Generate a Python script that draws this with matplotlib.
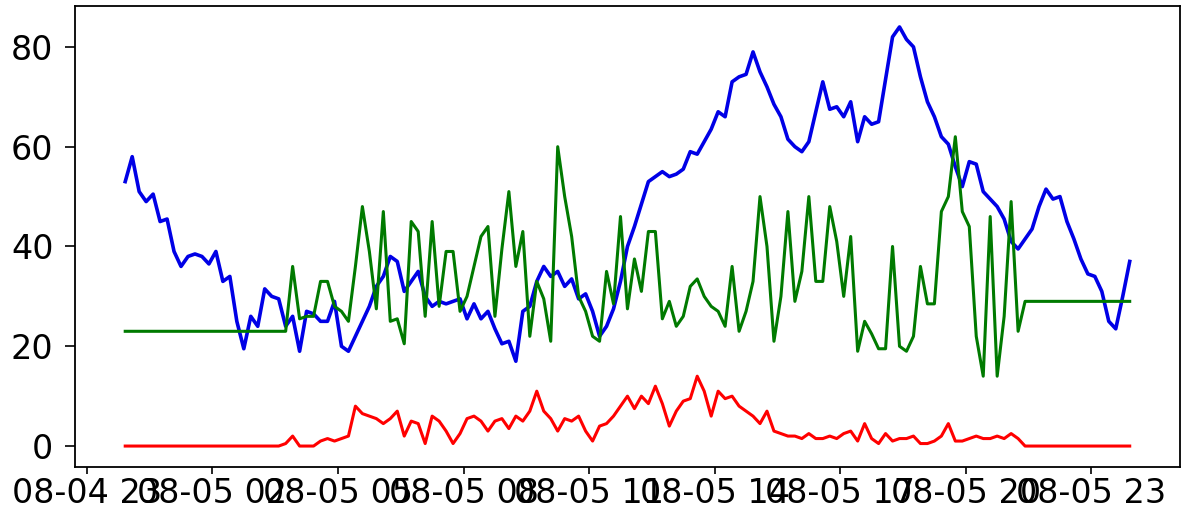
import numpy as np
import pandas as pd
import matplotlib
matplotlib.use('Agg')
import matplotlib.pyplot as plt
import matplotlib.dates as mdates

# 10-minute samples over one day
times = pd.date_range('2024-08-04 23:55', periods=145, freq='10min')

blue_vals = [
    53, 58, 51, 49, 50.5, 45, 45.5, 39, 36, 38,
    38.5, 38, 36.5, 39, 33, 34, 25, 19.5, 26, 24,
    31.5, 30, 29.5, 24, 26, 19, 27, 26.5, 25, 25,
    29, 20, 19, 22, 25, 28, 32, 34, 38, 37,
    31, 33, 35, 30, 28, 29, 28.5, 29, 29.5, 25.5,
    28.5, 25.5, 27, 23.5, 20.5, 21, 17, 27, 28, 33,
    36, 34, 35, 32, 33.5, 29.5, 30.5, 27, 22, 24,
    27.5, 33, 40, 44, 48.5, 53, 54, 55, 54, 54.5,
    55.5, 59, 58.5, 61, 63.5, 67, 66, 73, 74, 74.5,
    79, 75, 72, 68.5, 66, 61.5, 60, 59, 61, 67,
    73, 67.5, 68, 66, 69, 61, 66, 64.5, 65, 73.5,
    82, 84, 81.5, 80, 74, 69, 66, 62, 60.5, 56,
    52, 57, 56.5, 51, 49.5, 48, 45.5, 41, 39.5, 41.5,
    43.5, 48, 51.5, 49.5, 50, 45, 41.5, 37.5, 34.5, 34,
    31, 25, 23.5, 30, 37,
]

green_vals = [
    23, 23, 23, 23, 23, 23, 23, 23, 23, 23,
    23, 23, 23, 23, 23, 23, 23, 23, 23, 23,
    23, 23, 23, 23, 36, 25.5, 26, 26, 33, 33,
    28, 27, 25, 36, 48, 39, 27.5, 47, 25, 25.5,
    20.5, 45, 43, 26, 45, 28, 39, 39, 27, 30,
    36, 42, 44, 26, 39.5, 51, 36, 43, 22, 33,
    29.5, 21, 60, 50, 42, 30, 27, 22, 21, 35,
    28.5, 46, 27.5, 37.5, 31, 43, 43, 25.5, 29, 24,
    26, 32, 33.5, 30, 28, 27, 24, 36, 23, 27,
    33, 50, 40, 21, 30, 47, 29, 35, 50, 33,
    33, 48, 41, 30, 42, 19, 25, 22.5, 19.5, 19.5,
    40, 20, 19, 22, 36, 28.5, 28.5, 47, 50, 62,
    47, 44, 22, 14, 46, 14, 26, 49, 23, 29,
    29, 29, 29, 29, 29, 29, 29, 29, 29, 29,
    29, 29, 29, 29, 29,
]

red_vals = [
    0, 0, 0, 0, 0, 0, 0, 0, 0, 0,
    0, 0, 0, 0, 0, 0, 0, 0, 0, 0,
    0, 0, 0, 0.5, 2, 0, 0, 0, 1, 1.5,
    1, 1.5, 2, 8, 6.5, 6, 5.5, 4.5, 5.5, 7,
    2, 5, 4.5, 0.5, 6, 5, 3, 0.5, 2.5, 5.5,
    6, 5, 3, 5, 5.5, 3.5, 6, 5, 7, 11,
    7, 5.5, 3, 5.5, 5, 6, 3, 1, 4, 4.5,
    6, 8, 10, 7.5, 10, 8.5, 12, 8.5, 4, 7,
    9, 9.5, 14, 11, 6, 11, 9.5, 10, 8, 7,
    6, 4.5, 7, 3, 2.5, 2, 2, 1.5, 2.5, 1.5,
    1.5, 2, 1.5, 2.5, 3, 1, 4.5, 1.5, 0.5, 2.5,
    1, 1.5, 1.5, 2, 0.5, 0.5, 1, 2, 4.5, 1,
    1, 1.5, 2, 1.5, 1.5, 2, 1.5, 2.5, 1.5, 0,
    0, 0, 0, 0, 0, 0, 0, 0, 0, 0,
    0, 0, 0, 0, 0,
]

plt.rcParams['font.size'] = 24

fig = plt.figure(figsize=(11.81, 5.08), dpi=100)
ax = fig.add_axes([0.0635, 0.0807, 0.9356, 0.9075])

ax.plot(times, blue_vals, color='#0000e6', linewidth=2.6)
ax.plot(times, green_vals, color='#007a00', linewidth=2.2)
ax.plot(times, red_vals, color='#ff0000', linewidth=2.2)

ax.xaxis.set_major_locator(mdates.HourLocator(byhour=range(2, 24, 3)))
ax.xaxis.set_major_formatter(mdates.DateFormatter('%m-%d %H'))
ax.set_yticks([0, 20, 40, 60, 80])

for s in ax.spines.values():
    s.set_linewidth(1.3)
ax.tick_params(axis='x', length=5, width=1.2, pad=2)
ax.tick_params(axis='y', length=7.5, width=1.2, pad=8)

fig.savefig('out.png', dpi=100)
